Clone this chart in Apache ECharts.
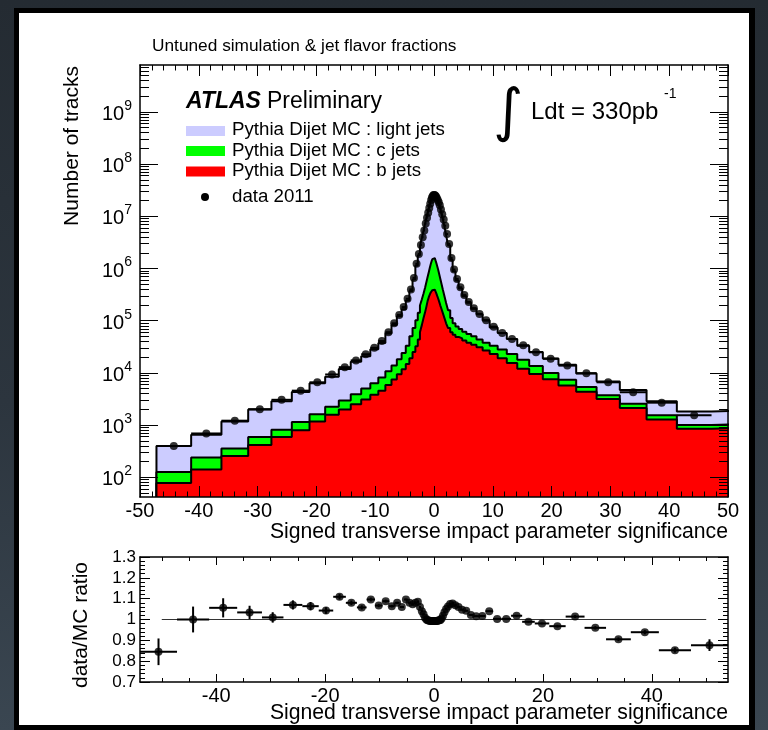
<!DOCTYPE html>
<html><head><meta charset="utf-8">
<script src="https://cdn.jsdelivr.net/npm/echarts@6/dist/echarts.min.js"></script>
<style>
html,body{margin:0;padding:0;width:768px;height:730px;overflow:hidden;background:linear-gradient(180deg,#242b32 0%,#2c353e 55%,#3a4651 100%);}
#frame{position:absolute;left:14px;top:8px;width:741px;height:722px;background:#000;}
#panel{position:absolute;left:19px;top:13px;width:730px;height:712px;background:#fff;}
#chart{position:absolute;left:0;top:0;width:768px;height:730px;}
</style></head><body>
<div id="frame"></div><div id="panel"></div><div id="chart"></div>
<script>
// ---- bin edges (signed transverse IP significance) ----
const binEdges = [-54.0, -47.2, -41.3, -36.15, -31.6, -27.65, -24.18, -21.17, -18.51, -16.19, -14.16, -12.38, -10.83, -9.47, -8.27, -7.23, -6.32, -5.51, -4.80, -4.19, -3.65, -3.17, -2.76, -2.39, -2.06, -1.78, -1.52, -1.29, -1.08, -0.89, -0.72, -0.56, -0.41, -0.27, -0.134, 0, 0.134, 0.27, 0.41, 0.56, 0.72, 0.89, 1.08, 1.29, 1.52, 1.78, 2.06, 2.39, 2.76, 3.17, 3.65, 4.19, 4.80, 5.51, 6.32, 7.23, 8.27, 9.47, 10.83, 12.38, 14.16, 16.19, 18.51, 21.17, 24.18, 27.65, 31.6, 36.15, 41.3, 47.2, 54.0];

// stacked MC: light + c + b (total)
const stackAll = [265, 398, 655, 1175, 2000, 2858, 4295, 6339, 8414, 11940, 16430, 20750, 28310, 37410, 56620, 82600, 121600, 166000, 243800, 370700, 612300, 1135000, 1799000, 2710000, 3882000, 5330000, 7244000, 9354000, 11800000, 14550000, 17500000, 20560000, 23070000, 24720000, 25880000,
  25880000, 25300000, 24160000, 22550000, 20540000, 18710000, 16280000, 13520000, 10910000, 8556000, 6386000, 4352000, 2775000, 1476000, 886700, 590800, 411800, 295100, 219800, 170100, 132800, 100600, 73790, 58040, 44540, 33280, 25110, 18980, 14260, 9750, 6882, 4714, 2867, 1816, 1905];
// stacked MC: c + b
const stackBC = [79, 126, 240, 355, 589, 813, 1148, 1622, 2239, 2951, 3890, 5012, 6310, 8128, 10720, 13800, 18200, 23990, 33110, 50120, 72440, 102300, 141300, 195000, 257000, 331100, 426600, 549500, 691800, 851100, 1023000, 1202000, 1380000, 1514000, 1585000,
  1585000, 1549000, 1413000, 1259000, 1096000, 933300, 776200, 631000, 501200, 389000, 295100, 218800, 158500, 112200, 89130, 77620, 69180, 61660, 55590, 50120, 43650, 38020, 33110, 28180, 22910, 17780, 13490, 10000, 7413, 5370, 3715, 2570, 1549, 1000, 1072];
// MC: b jets
const stackB = [50, 78, 141, 257, 417, 589, 794, 1175, 1585, 1995, 2512, 3090, 3802, 4571, 5888, 7499, 9441, 11750, 14790, 19050, 25120, 32360, 43650, 60260, 83180, 112200, 144500, 186200, 239900, 281800, 316200, 346700, 371500, 384600, 393600,
  393600, 384600, 363100, 331100, 295100, 263000, 229100, 195000, 166000, 138000, 112200, 89130, 72440, 60260, 53700, 48980, 45710, 41690, 38020, 34670, 30900, 26920, 22910, 19050, 15490, 12020, 9550, 7586, 5754, 4365, 3162, 2138, 1288, 851, 891];
// data 2011
const data2011 = [224, 398, 692, 1216, 2018, 3055, 4571, 6607, 9333, 12880, 17380, 22750, 30200, 40740, 60260, 89130, 128800, 182000, 263000, 398000, 661000, 1230000, 1905000, 2818000, 3980000, 5370000, 7240000, 9330000, 11750000, 14450000, 17380000, 20420000, 22910000, 24550000, 25700000,
  25700000, 25120000, 23990000, 22390000, 20420000, 18620000, 16220000, 13490000, 10960000, 8710000, 6610000, 4570000, 2950000, 1585000, 955000, 631000, 436500, 309000, 229000, 173800, 134900, 102300, 76740, 58210, 44670, 33880, 24830, 18620, 13800, 9886, 6607, 4266, 2692, 1549, 1671];
// data / MC ratio and its error
const ratio = [0.845, 1.00, 1.056, 1.034, 1.01, 1.07, 1.064, 1.043, 1.109, 1.08, 1.058, 1.096, 1.067, 1.088, 1.064, 1.08, 1.06, 1.096, 1.08, 1.073, 1.08, 1.085, 1.06, 1.04, 1.025, 1.008, 1.0, 0.997, 0.995, 0.994, 0.993, 0.993, 0.993, 0.993, 0.993,
  0.993, 0.993, 0.993, 0.993, 0.994, 0.995, 0.996, 0.998, 1.005, 1.018, 1.035, 1.05, 1.063, 1.074, 1.077, 1.068, 1.06, 1.047, 1.042, 1.022, 1.016, 1.017, 1.04, 1.003, 1.003, 1.018, 0.989, 0.981, 0.968, 1.014, 0.96, 0.905, 0.939, 0.853, 0.877];
const ratioErr = [0.064, 0.062, 0.046, 0.032, 0.025, 0.022, 0.02, 0.016, 0.013, 0.011, 0.01, 0.009, 0.008, 0.007, 0.006, 0.005, 0.005, 0.004, 0.004, 0.004, 0.004, 0.004, 0.004, 0.004, 0.004, 0.004, 0.004, 0.004, 0.004, 0.004, 0.004, 0.004, 0.004, 0.004, 0.004,
  0.004, 0.004, 0.004, 0.004, 0.004, 0.004, 0.004, 0.004, 0.004, 0.004, 0.004, 0.004, 0.004, 0.004, 0.004, 0.004, 0.004, 0.004, 0.004, 0.004, 0.004, 0.004, 0.004, 0.004, 0.004, 0.004, 0.004, 0.004, 0.006, 0.007, 0.008, 0.009, 0.01, 0.012, 0.028];

// axis ticks
const upperXTicks = [-50, -40, -30, -20, -10, 0, 10, 20, 30, 40, 50];
const decadeExps = [2, 3, 4, 5, 6, 7, 8, 9];
const ratioXMajor = [-40, -20, 0, 20, 40];
const ratioXMinor = [-50, -45, -35, -30, -25, -15, -10, -5, 5, 10, 15, 25, 30, 35, 45, 50];

const FONT = 'Liberation Sans';
const X_MIN = -50, X_MAX = 50;
const Y_MIN = 42, Y_MAX = 7.9e9;
const LOG_MIN = Math.log10(Y_MIN), LOG_MAX = Math.log10(Y_MAX);
const minorLogTicks = [];
for (let n = 1; n <= 9; n++) for (let k = 2; k <= 9; k++) {
  const v = n + Math.log10(k);
  if (v > LOG_MIN && v < LOG_MAX) minorLogTicks.push(v);
}

const nb = stackAll.length;
const center = i => (binEdges[i] + binEdges[i + 1]) / 2;
const firstUpper = binEdges.findIndex(e => e >= X_MIN);

function stepPoints(vals) {
  const pts = [[binEdges[firstUpper], Y_MIN]];
  for (let i = firstUpper; i < nb; i++) pts.push([binEdges[i], vals[i]]);
  pts.push([binEdges[nb], vals[nb - 1]]);
  return pts;
}
function stepSeries(vals, color, z) {
  return {type: 'line', xAxisIndex: 0, yAxisIndex: 0, data: stepPoints(vals), step: 'end', symbol: 'none',
    lineStyle: {color: '#000', width: 2}, areaStyle: {color: color, opacity: 1, origin: 'start'}, z: z, silent: true};
}
const upperPts = [], upperErr = [], lowPts = [], lowErr = [];
for (let i = 0; i < nb; i++) {
  const c = center(i);
  if (c >= X_MIN && c <= X_MAX) {
    upperPts.push([c, data2011[i]]);
    upperErr.push([c, data2011[i], binEdges[i], binEdges[i + 1], 0]);
  }
  lowPts.push([c, ratio[i]]);
  lowErr.push([c, ratio[i], binEdges[i], binEdges[i + 1], ratioErr[i]]);
}
function errBars(params, api) {
  const xc = api.value(0), y = api.value(1), x0 = api.value(2), x1 = api.value(3), e = api.value(4);
  const a = api.coord([x0, y]), b = api.coord([x1, y]);
  const children = [{type: 'line', shape: {x1: a[0], y1: a[1], x2: b[0], y2: b[1]}, style: {stroke: '#000', lineWidth: 2}}];
  if (e > 0) {
    const c = api.coord([xc, y - e]), d = api.coord([xc, y + e]);
    children.push({type: 'line', shape: {x1: c[0], y1: c[1], x2: d[0], y2: d[1]}, style: {stroke: '#000', lineWidth: 2}});
  }
  const cs = params.coordSys;
  return {type: 'group', children: children, clipPath: {type: 'rect', shape: {x: cs.x, y: cs.y, width: cs.width, height: cs.height}}};
}

const LS = {color: '#000', width: 1.5};
const TS = {color: '#000', width: 1};
const lab = {fontFamily: FONT, color: '#000'};
const line = show => ({show: show, onZero: false, lineStyle: LS});

function xAx(grid, pos, o) {
  return Object.assign({gridIndex: grid, type: 'value', position: pos, z: 10, splitLine: {show: false}}, o);
}
const xAxis = [
  xAx(0, 'bottom', {min: X_MIN, max: X_MAX, interval: 10, axisLine: line(true),
    axisTick: {show: true, inside: true, length: 11, lineStyle: TS},
    minorTick: {show: true, splitNumber: 5, length: 5.5, lineStyle: TS},
    axisLabel: Object.assign({fontSize: 20, margin: 4, customValues: upperXTicks}, lab)}),
  xAx(0, 'top', {min: X_MIN, max: X_MAX, interval: 10, axisLine: line(true),
    axisTick: {show: true, inside: true, length: 11, lineStyle: TS},
    minorTick: {show: true, splitNumber: 5, length: 5.5, lineStyle: TS}, axisLabel: {show: false}}),
  xAx(1, 'bottom', {min: -54, max: 54, axisLine: line(true),
    axisTick: {show: true, inside: true, length: 8, lineStyle: TS, customValues: ratioXMajor},
    axisLabel: Object.assign({fontSize: 20, margin: 4, customValues: ratioXMajor}, lab)}),
  xAx(1, 'bottom', {min: -54, max: 54, axisLine: line(false),
    axisTick: {show: true, inside: true, length: 4, lineStyle: TS, customValues: ratioXMinor}, axisLabel: {show: false}}),
  xAx(1, 'top', {min: -54, max: 54, axisLine: line(true),
    axisTick: {show: true, inside: true, length: 8, lineStyle: TS, customValues: ratioXMajor}, axisLabel: {show: false}}),
  xAx(1, 'top', {min: -54, max: 54, axisLine: line(false),
    axisTick: {show: true, inside: true, length: 4, lineStyle: TS, customValues: ratioXMinor}, axisLabel: {show: false}})
];
function yTickAx(pos, major, withLabels) {
  const o = {gridIndex: 0, type: 'value', min: LOG_MIN, max: LOG_MAX, position: pos, z: 10, splitLine: {show: false},
    axisLine: line(major),
    axisTick: {show: true, inside: true, length: major ? 18 : 9, lineStyle: TS, customValues: major ? decadeExps : minorLogTicks},
    axisLabel: {show: false}};
  if (withLabels) {
    o.axisLabel = {show: true, customValues: decadeExps, margin: 8,
      formatter: v => '{b|10}{s|' + Math.round(v) + '}',
      rich: {b: {fontSize: 20, fontFamily: FONT, color: '#000', lineHeight: 26, padding: [5, 0, 0, 0]},
             s: {fontSize: 14, fontFamily: FONT, color: '#000', lineHeight: 14, verticalAlign: 'top'}}};
  }
  return o;
}
function yRatioAx(pos, withLabels) {
  return {gridIndex: 1, type: 'value', min: 0.7, max: 1.3, interval: 0.1, position: pos, z: 10, splitLine: {show: false},
    axisLine: line(true),
    axisTick: {show: true, inside: true, length: 10, lineStyle: TS},
    minorTick: {show: true, splitNumber: 5, length: 5, lineStyle: TS},
    axisLabel: withLabels ? Object.assign({fontSize: 17, margin: 4}, lab) : {show: false}};
}
const yAxis = [
  {gridIndex: 0, type: 'log', logBase: 10, min: Y_MIN, max: Y_MAX, show: false, axisLine: {onZero: false}},
  yTickAx('left', true, true),
  yTickAx('left', false, false),
  yTickAx('right', true, false),
  yTickAx('right', false, false),
  yRatioAx('left', true),
  yRatioAx('right', false)
];

const T = (x, y, text, size, extra, styleExtra) => Object.assign({type: 'text', x: x, y: y, silent: true,
  style: Object.assign({text: text, fontSize: size, fontFamily: FONT, fill: '#000', textAlign: 'left', textVerticalAlign: 'middle'}, styleExtra || {})}, extra || {});

const graphic = [
  T(152, 46, 'Untuned simulation & jet flavor fractions', 17.3),
  T(72, 66, 'Number of tracks', 21, {rotation: Math.PI / 2}, {textAlign: 'right'}),
  T(728, 532, 'Signed transverse impact parameter significance', 21.2, null, {textAlign: 'right'}),
  T(728, 713, 'Signed transverse impact parameter significance', 21.2, null, {textAlign: 'right'}),
  T(81, 562, 'data/MC ratio', 21, {rotation: Math.PI / 2}, {textAlign: 'right'}),
  T(186, 102, 'ATLAS', 23, null, {fontWeight: 'bold', fontStyle: 'italic'}),
  T(267, 102, 'Preliminary', 23),
  {type: 'rect', shape: {x: 186, y: 126, width: 39, height: 10}, style: {fill: '#ccccff'}, silent: true},
  {type: 'rect', shape: {x: 186, y: 146, width: 39, height: 10}, style: {fill: '#00ff00'}, silent: true},
  {type: 'rect', shape: {x: 186, y: 166.5, width: 39, height: 10}, style: {fill: '#ff0000'}, silent: true},
  T(232, 130, 'Pythia Dijet MC : light jets', 18.7),
  T(232, 150.5, 'Pythia Dijet MC : c jets', 18.7),
  T(232, 171, 'Pythia Dijet MC : b jets', 18.7),
  {type: 'circle', shape: {cx: 205, cy: 197, r: 4}, style: {fill: '#000'}, silent: true},
  T(232, 197, 'data 2011', 18.7),
  T(508, 115, '\u222B', 58, null, {textAlign: 'center', fontFamily: 'DejaVu Sans'}),
  T(531, 112, 'Ldt = 330pb', 24),
  T(664, 94, '-1', 14)
];

const chart = echarts.init(document.getElementById('chart'), null, {renderer: 'canvas'});
chart.setOption({
  animation: false,
  backgroundColor: 'transparent',
  textStyle: {fontFamily: FONT},
  grid: [
    {left: 140, top: 65, width: 588, height: 432},
    {left: 140, top: 557, width: 588, height: 125}
  ],
  xAxis: xAxis,
  yAxis: yAxis,
  graphic: graphic,
  series: [
    stepSeries(stackAll, '#ccccff', 2),
    stepSeries(stackBC, '#00ff00', 3),
    stepSeries(stackB, '#ff0000', 4),
    {type: 'custom', xAxisIndex: 0, yAxisIndex: 0, renderItem: errBars, data: upperErr, encode: {x: 0, y: 1}, z: 5, silent: true},
    {type: 'scatter', xAxisIndex: 0, yAxisIndex: 0, data: upperPts, symbol: 'circle', symbolSize: 8, itemStyle: {color: '#000'}, z: 6, silent: true},
    {type: 'line', xAxisIndex: 2, yAxisIndex: 5, data: [[-50, 1], [50, 1]], symbol: 'none', lineStyle: {color: '#333', width: 1}, z: 2, silent: true},
    {type: 'custom', xAxisIndex: 2, yAxisIndex: 5, renderItem: errBars, data: lowErr, encode: {x: 0, y: 1}, z: 5, silent: true},
    {type: 'scatter', xAxisIndex: 2, yAxisIndex: 5, data: lowPts, symbol: 'circle', symbolSize: 8, itemStyle: {color: '#000'}, z: 6, silent: true}
  ]
});
</script></body></html>
